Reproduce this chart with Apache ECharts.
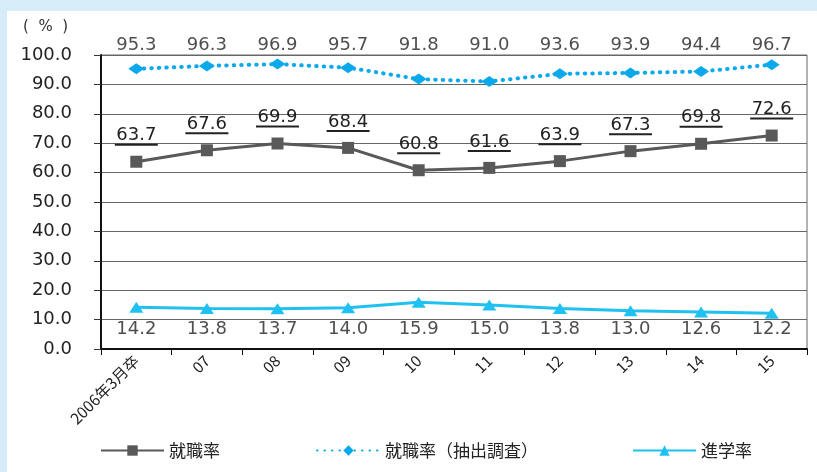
<!DOCTYPE html>
<html>
<head>
<meta charset="utf-8">
<script src="https://cdn.jsdelivr.net/npm/echarts@6/dist/echarts.min.js"></script>
<style>
  html, body { margin: 0; padding: 0; }
  #frame { position: relative; width: 817px; height: 472px; background: #d6ecf9; overflow: hidden; }
  #panel { position: absolute; left: 7px; top: 11px; right: 0; bottom: 0; background: #ffffff; }
  #chart { position: absolute; left: 0; top: 0; width: 817px; height: 472px; }
</style>
</head>
<body>
<div id="frame">
  <div id="panel"></div>
  <div id="chart"></div>
</div>
<script>
// Graduating year (March of each year)
const categories = ['2006年3月卒', '07', '08', '09', '10', '11', '12', '13', '14', '15'];

// 就職率 (employment rate)
const employmentRate = [63.7, 67.6, 69.9, 68.4, 60.8, 61.6, 63.9, 67.3, 69.8, 72.6];
// 就職率（抽出調査） (employment rate, sample survey)
const employmentSurvey = [95.3, 96.3, 96.9, 95.7, 91.8, 91.0, 93.6, 93.9, 94.4, 96.7];
// 進学率 (rate of going on to further study)
const advancementRate = [14.2, 13.8, 13.7, 14.0, 15.9, 15.0, 13.8, 13.0, 12.6, 12.2];

// Value rows where the survey and advancement labels are lined up
const SURVEY_LABEL_ROW = 103.4;
const ADVANCE_LABEL_ROW = 6.6;

const NUM_FONT = 'DejaVu Sans';
const CJK_FONT = 'Noto Sans CJK JP';
const TEXT = '#222222';

const GREY = '#595959';
const BLUE_DOT = '#0aa9ec';
const BLUE = '#1fc1f1';

const chart = echarts.init(document.getElementById('chart'), null, { renderer: 'canvas' });

function rowLabels(values, row) {
  return values.map(v => ({ value: row, shown: v }));
}

const legendBase = {
  orient: 'horizontal',
  top: 437,
  itemWidth: 63,
  itemHeight: 13,
  itemGap: 5,
  selectedMode: false,
  textStyle: { fontFamily: CJK_FONT, fontSize: 17, color: TEXT }
};

const rowLabelStyle = {
  show: true, position: 'inside',
  formatter: p => p.data.shown.toFixed(1),
  fontFamily: NUM_FONT, fontSize: 18, color: TEXT
};

chart.setOption({
  backgroundColor: 'transparent',
  animation: false,
  grid: {
    left: 101, right: 10, top: 55, bottom: 123,
    show: true, borderColor: '#666666', borderWidth: 1
  },
  graphic: [{
    // unit caption above the value axis
    type: 'text',
    left: 23, top: 20,
    style: { text: '(  %  )', font: '15px "DejaVu Sans"', fill: '#333333' }
  }],
  legend: [
    Object.assign({}, legendBase, { left: 95, data: ['就職率'] }),
    Object.assign({}, legendBase, { left: 311, data: ['就職率（抽出調査）'] }),
    Object.assign({}, legendBase, { left: 627, data: ['進学率'] })
  ],
  xAxis: {
    type: 'category',
    data: categories,
    boundaryGap: true,
    axisLine: { lineStyle: { color: '#111111', width: 2 } },
    axisTick: { show: true, length: 6, interval: 0, lineStyle: { color: '#111111', width: 1 } },
    axisLabel: {
      interval: 0, rotate: 45, margin: 9,
      fontFamily: CJK_FONT, fontSize: 15.5, color: TEXT
    },
    splitLine: { show: false }
  },
  yAxis: {
    type: 'value',
    min: 0, max: 100, interval: 10,
    axisLine: { show: true, lineStyle: { color: '#111111', width: 2 } },
    axisTick: { show: true, length: 7, lineStyle: { color: '#333333', width: 1 } },
    axisLabel: {
      margin: 29, fontFamily: NUM_FONT, fontSize: 18, color: TEXT,
      formatter: v => v.toFixed(1)
    },
    splitLine: { show: true, lineStyle: { color: '#666666', width: 1.2 } }
  },
  series: [
    {
      name: '就職率',
      type: 'line',
      data: employmentRate,
      z: 4,
      symbol: 'rect',
      symbolSize: 12,
      itemStyle: { color: GREY },
      lineStyle: { color: GREY, width: 3 },
      label: {
        show: true,
        position: 'top',
        distance: 10,
        formatter: p => '{v|' + p.value.toFixed(1) + '}\n{u|}',
        rich: {
          v: { fontFamily: NUM_FONT, fontSize: 18, color: TEXT, lineHeight: 16, align: 'center' },
          u: { width: 43, height: 2, lineHeight: 2, backgroundColor: TEXT, align: 'center' }
        }
      }
    },
    {
      name: '就職率（抽出調査）',
      type: 'line',
      data: employmentSurvey,
      z: 3,
      symbol: 'diamond',
      symbolSize: [16, 11],
      itemStyle: { color: BLUE_DOT },
      lineStyle: { color: BLUE_DOT, width: 4, type: [0.5, 7], cap: 'round' }
    },
    {
      name: '進学率',
      type: 'line',
      data: advancementRate,
      z: 3,
      symbol: 'triangle',
      symbolSize: [14, 11],
      itemStyle: { color: BLUE },
      lineStyle: { color: BLUE, width: 3 }
    },
    {
      // value labels for the survey line, set in a row above the plot
      name: 'surveyLabels',
      type: 'scatter',
      data: rowLabels(employmentSurvey, SURVEY_LABEL_ROW),
      symbolSize: 1,
      itemStyle: { color: 'rgba(0,0,0,0)' },
      clip: false,
      silent: true,
      label: rowLabelStyle
    },
    {
      // value labels for the advancement line, set in a row beneath it
      name: 'advanceLabels',
      type: 'scatter',
      data: rowLabels(advancementRate, ADVANCE_LABEL_ROW),
      symbolSize: 1,
      itemStyle: { color: 'rgba(0,0,0,0)' },
      clip: false,
      silent: true,
      label: rowLabelStyle
    }
  ]
});
</script>
</body>
</html>
